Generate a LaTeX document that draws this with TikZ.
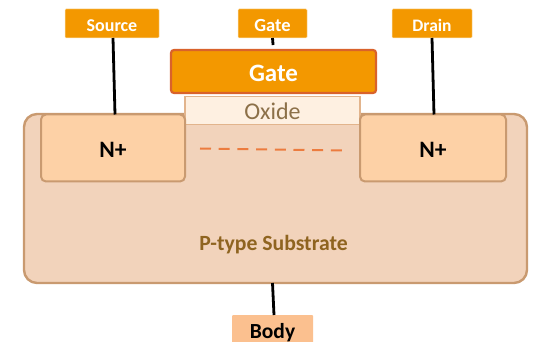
\documentclass[tikz,border=0pt]{standalone}
\usepackage{fontspec}
\setmainfont{Carlito}
\definecolor{org}{HTML}{F39800}
\definecolor{orgb}{HTML}{FBE0B0}
\definecolor{gateb}{HTML}{D9622B}
\definecolor{subf}{HTML}{F2D3BB}
\definecolor{subb}{HTML}{C99A70}
\definecolor{npf}{HTML}{FDD1A6}
\definecolor{oxf}{HTML}{FEF0E1}
\definecolor{oxb}{HTML}{E2B48C}
\definecolor{oxt}{HTML}{8C7048}
\definecolor{subt}{HTML}{8F6420}
\definecolor{bodyf}{HTML}{FBC08F}
\definecolor{dashc}{HTML}{EC7C3F}
\tikzset{
  x=1pt,y=-1pt,
  box/.style 2 args={anchor=center,inner sep=0pt,outer sep=0pt,minimum width=#1pt,minimum height=#2pt,text depth=0pt},
  term/.style={rounded corners=1pt,fill=org,draw=orgb,line width=0.5pt,text=white,text height=17pt},
  wire/.style={draw=black,line width=2.8pt},
  nplus/.style={rounded corners=5pt,fill=npf,draw=subb,line width=2pt,text=black,text height=20pt,font=\fontsize{23.5}{23.5}\selectfont\bfseries},
}
\begin{document}
\begin{tikzpicture}
\useasboundingbox (0,0) rectangle (533,342);
\node[box={503}{169},rounded corners=13pt,fill=subf,draw=subb,line width=2.4pt] (sub) at (275.5,198.5) {};
\node[font=\fontsize{21.7}{21.7}\selectfont\bfseries,text=subt,inner sep=0pt,anchor=base] (subl) at (273.5,250) {P-type Substrate};
\node[box={175}{28},fill=oxf,draw=oxb,line width=1.4pt,text=oxt,text height=19pt,font=\fontsize{24}{24}\selectfont] (ox) at (272.5,110.5) {Oxide};
\node[box={144}{67},nplus] (nl) at (113,148) {N+};
\node[box={146}{67},nplus] (nr) at (433,148) {N+};
\node[box={205}{43},rounded corners=3pt,fill=org,draw=gateb,line width=2.2pt,text=white,text height=20pt,font=\fontsize{25}{25}\selectfont\bfseries] (g) at (273.5,71.5) {Gate};
\node[box={94}{29},term,font=\fontsize{18}{18}\selectfont\bfseries] (src) at (112,23.5) {Source};
\node[box={69}{29},term,font=\fontsize{18.5}{18.5}\selectfont\bfseries] (gl) at (272.5,23.5) {Gate};
\node[box={80}{29},term,font=\fontsize{17.5}{17.5}\selectfont\bfseries] (dr) at (432,23.5) {Drain};
\node[box={81}{40},rounded corners=1pt,fill=bodyf,text=black,text height=6pt,font=\fontsize{21.5}{21.5}\selectfont\bfseries] (bd) at (272.5,335) {Body};
\coordinate (bt) at (272.5,283);
\coordinate (dl) at (200,148.5);
\coordinate (dr2) at (342,150.5);
\draw[wire] ([xshift=1pt]src.south) -- ([xshift=2pt]nl.north);
\draw[wire] (dr.south) -- ([xshift=1pt]nr.north);
\draw[wire,shorten >=5pt] (gl.south) -- (g.north);
\draw[wire] (bt) -- ([xshift=1.5pt]bd.north);
\draw[draw=dashc,line width=2pt,dash pattern=on 11pt off 7.7pt] (dl) -- (dr2);
\end{tikzpicture}
\end{document}
